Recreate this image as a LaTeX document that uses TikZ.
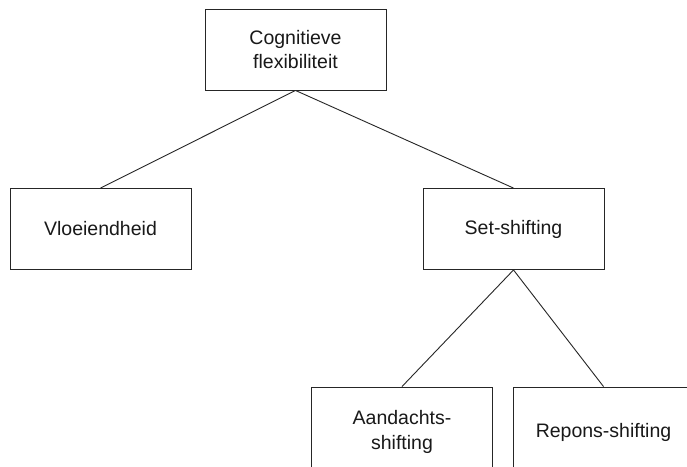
\documentclass[tikz,border=0pt]{standalone}
\usepackage{fontspec}
\setmainfont{Liberation Sans}
\begin{document}
\begin{tikzpicture}[x=1pt,y=-1pt,
  box/.style={draw=black!85, line width=0.9pt, minimum width=181pt, minimum height=81pt,
    inner sep=0pt, align=center, font=\fontsize{19.5}{23.5}\selectfont, text=black!90},
  lowbox/.style={box, minimum height=90pt, font=\fontsize{19.5}{25}\selectfont},
  link/.style={draw=black!85, line width=0.9pt}]
\useasboundingbox (0,0) rectangle (687,466);
\clip (0,0) rectangle (687,466);
\fill[white] (0,0) rectangle (687,466);
\node[box] (cf) at (295.5,49.5) {Cognitieve\\flexibiliteit};
\node[box] (vl) at (100.5,229) {Vloeiendheid};
\node[box] (ss) at (513.5,229) {Set-shifting};
\node[lowbox] (as) at (402,432) {Aandachts-\\shifting};
\node[lowbox] (rs) at (603.5,432) {Repons-shifting};
\draw[link] (cf.south) -- (vl.north);
\draw[link] (cf.south) -- (ss.north);
\draw[link] (ss.south) -- (as.north);
\draw[link] (ss.south) -- (rs.north);
\end{tikzpicture}
\end{document}
